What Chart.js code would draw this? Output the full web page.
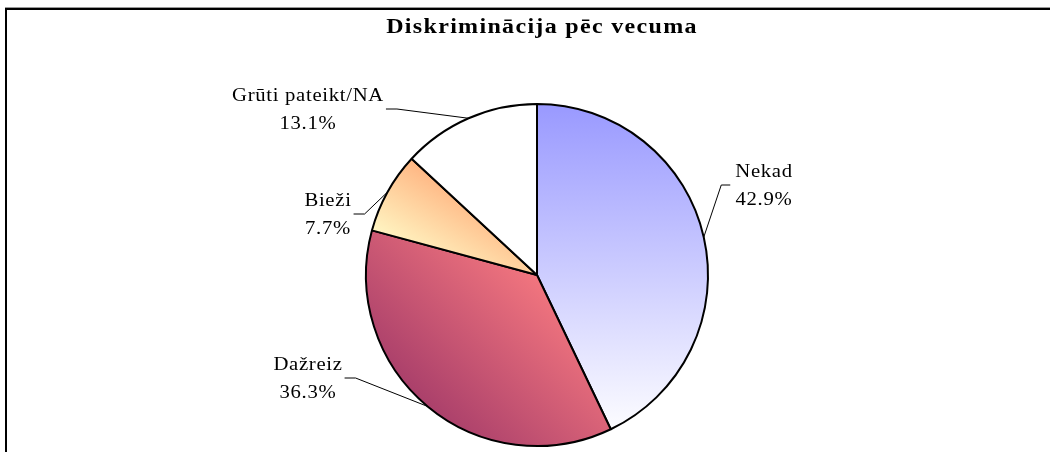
<!DOCTYPE html>
<html>
<head>
<meta charset="utf-8">
<script src="https://cdn.jsdelivr.net/npm/chart.js@4.4.1/dist/chart.umd.min.js"></script>
<style>
  body { margin: 0; background: #fff; }
  #wrap { width: 1050px; height: 452px; }
</style>
</head>
<body>
<div id="wrap"><canvas id="ageChart"></canvas></div>
<script>
const chartTitle = "Diskriminācija pēc vecuma";
const categories = ["Nekad", "Dažreiz", "Bieži", "Grūti pateikt/NA"];
const shares = [42.9, 36.3, 7.7, 13.1];
const shareLabels = ["42.9%", "36.3%", "7.7%", "13.1%"];

// label box centre relative to pie centre, and which side the leader joins
const labelLayout = [
  { dx: 227, dy: -89, side: "left" },
  { dx: -229, dy: 104, side: "right" },
  { dx: -209, dy: -60, side: "right" },
  { dx: -229, dy: -165, side: "right" }
];

function sliceFill(ctx) {
  const chart = ctx.chart;
  const area = chart.chartArea;
  if (!area) return "#fff";
  const meta = chart.getDatasetMeta(0);
  const arc = meta.data[ctx.dataIndex];
  const cx = (area.left + area.right) / 2;
  const cy = (area.top + area.bottom) / 2;
  const r = arc && arc.outerRadius ? arc.outerRadius : 171;
  const c = chart.ctx;
  let g;
  if (ctx.dataIndex === 0) {
    g = c.createLinearGradient(cx, cy - r, cx, cy + r * 0.95);
    g.addColorStop(0, "#9999ff");
    g.addColorStop(1, "#ffffff");
  } else if (ctx.dataIndex === 1) {
    g = c.createLinearGradient(cx - r * 0.85, cy + r * 0.9, cx + r * 0.15, cy - r * 0.1);
    g.addColorStop(0, "#993366");
    g.addColorStop(1, "#ff7f82");
  } else if (ctx.dataIndex === 2) {
    g = c.createLinearGradient(cx - r * 0.6, cy - r * 0.85, cx - r, cy - r * 0.2);
    g.addColorStop(0, "#ff9966");
    g.addColorStop(1, "#ffffcc");
  } else {
    return "#ffffff";
  }
  return g;
}

// text in the original is a bit wider than Liberation Serif, so stretch it
function wideText(c, text, x, y, sx) {
  c.save();
  c.translate(x, y);
  c.scale(sx, 1);
  c.fillText(text, 0, 0);
  c.restore();
}

const frame = {
  id: "frame",
  beforeDraw(chart) {
    const c = chart.ctx;
    c.save();
    c.fillStyle = "#fff";
    c.fillRect(0, 0, chart.width, chart.height);
    c.fillStyle = "#999";
    c.fillRect(5, 7, chart.width - 5, 1);
    c.fillStyle = "#000";
    c.fillRect(5, 8, chart.width - 5, 2);
    c.fillRect(5, 8, 2, chart.height - 8);

    c.font = "bold 20px 'Liberation Serif'";
    c.letterSpacing = "1.1px";
    c.textAlign = "center";
    c.textBaseline = "middle";
    wideText(c, chartTitle, 542, 28, 1.2);
    c.restore();
  }
};

const pieLabels = {
  id: "pieLabels",
  afterDatasetsDraw(chart) {
    const c = chart.ctx;
    const meta = chart.getDatasetMeta(0);
    const lineH = 28;
    const sx = 1.15;
    c.save();
    c.font = "18px 'Liberation Serif'";
    c.letterSpacing = "0.6px";
    c.fillStyle = "#000";
    c.strokeStyle = "#000";
    c.lineWidth = 1;
    c.textBaseline = "middle";
    c.textAlign = "center";
    meta.data.forEach((arc, i) => {
      const mid = (arc.startAngle + arc.endAngle) / 2;
      const ex = arc.x + Math.cos(mid) * arc.outerRadius;
      const ey = arc.y + Math.sin(mid) * arc.outerRadius;
      const lay = labelLayout[i];
      const lx = arc.x + lay.dx;
      const ly = arc.y + lay.dy;
      const lines = [categories[i], shareLabels[i]];
      const w = Math.max(...lines.map(t => c.measureText(t).width)) * sx;
      wideText(c, lines[0], lx, ly - lineH / 2, sx);
      wideText(c, lines[1], lx, ly + lineH / 2, sx);
      let sx0, kx;
      if (lay.side === "left") {
        sx0 = lx - w / 2 - 5;
        kx = sx0 - 9;
      } else {
        sx0 = lx + w / 2 + 2;
        kx = sx0 + 11;
      }
      c.beginPath();
      c.moveTo(sx0, ly - 1);
      c.lineTo(kx, ly - 1);
      c.lineTo(ex, ey);
      c.stroke();
    });
    c.restore();
  }
};

new Chart(document.getElementById("ageChart"), {
  type: "pie",
  data: {
    labels: categories,
    datasets: [{
      data: shares,
      backgroundColor: sliceFill,
      borderColor: "#000",
      borderWidth: 2,
      hoverOffset: 0
    }]
  },
  options: {
    responsive: true,
    maintainAspectRatio: false,
    animation: false,
    layout: {
      padding: { left: 200, right: 176, top: 103, bottom: 5 }
    },
    plugins: {
      legend: { display: false },
      tooltip: { enabled: false },
      title: { display: false }
    }
  },
  plugins: [frame, pieLabels]
});
</script>
</body>
</html>
